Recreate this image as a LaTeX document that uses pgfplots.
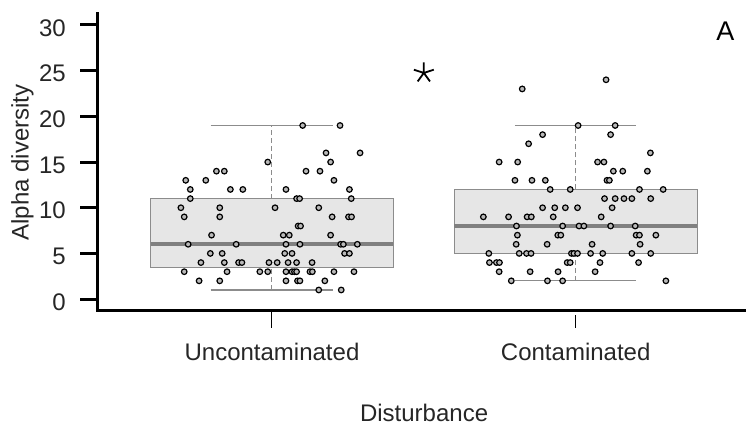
\documentclass[border=0pt]{standalone}
\usepackage{pgfplots}
\pgfplotsset{compat=1.18}
\usepackage{fontspec}
\setmainfont{Liberation Sans}
\definecolor{boxfill}{HTML}{E6E6E6}
\definecolor{boxline}{HTML}{8C8C8C}
\definecolor{medline}{HTML}{808080}
\definecolor{txt}{HTML}{262626}
\begin{document}
\begin{tikzpicture}
\useasboundingbox (0,0) rectangle (746bp,427bp);
\begin{axis}[
  at={(97bp,116bp)}, anchor=south west,
  scale only axis, width=649bp, height=297bp,
  xmin=0.4238, xmax=2.5608, ymin=-1.3, ymax=31.2,
  axis x line*=bottom, axis y line*=left,
  axis line style={line width=3bp, line cap=rect, black},
  xtick={1,2}, xticklabels={Uncontaminated,Contaminated},
  ytick={0,5,10,15,20,25,30},
  tick align=outside,
  major tick length=17bp,
  ytick style={draw=none},
  xtick style={line width=1bp, black, shorten >=4bp},
  tick label style={font=\fontsize{24bp}{28bp}\selectfont, inner sep=0pt, text=txt},
  /pgf/number format/assume math mode=true,
  yticklabel style={anchor=east, xshift=-14bp, yshift=-3bp},
  xticklabel style={anchor=base, yshift=-33bp},
  ylabel={Alpha diversity},
  ylabel style={at={(axis description cs:-0.1148,0.5)}, anchor=center, inner sep=0pt, font=\fontsize{24bp}{28bp}\selectfont, text=txt},
  xlabel={Disturbance},
  xlabel style={at={(axis description cs:0.504,-0.3704)}, anchor=base, inner sep=0pt, font=\fontsize{24bp}{28bp}\selectfont, text=txt},
  clip=false,
]
% y tick marks (thick, outside)
\pgfplotsinvokeforeach{0,5,10,15,20,25,30}{
  \addplot[black, line width=3bp] coordinates {(0.4238,#1) (0.3678,#1)};
}
% boxes
\addplot[fill=boxfill, draw=boxline, line width=1.2bp] coordinates {(0.6,3.5) (1.4,3.5) (1.4,11) (0.6,11)} -- cycle;
\addplot[fill=boxfill, draw=boxline, line width=1.2bp] coordinates {(1.6,5) (2.4,5) (2.4,12) (1.6,12)} -- cycle;
% medians
\addplot[medline, line width=4bp] coordinates {(0.6,6) (1.4,6)};
\addplot[medline, line width=4bp] coordinates {(1.6,8) (2.4,8)};
% whiskers
\addplot[boxline, line width=1bp, dash pattern=on 5bp off 3bp] coordinates {(1,11) (1,19)};
\addplot[boxline, line width=1bp, dash pattern=on 5bp off 3bp] coordinates {(1,1) (1,3.5)};
\addplot[boxline, line width=1bp, dash pattern=on 5bp off 3bp] coordinates {(2,12) (2,19)};
\addplot[boxline, line width=1bp, dash pattern=on 5bp off 3bp] coordinates {(2,2) (2,5)};
\addplot[boxline, line width=1.2bp] coordinates {(0.798,19) (1.202,19)};
\addplot[boxline, line width=1.2bp] coordinates {(0.798,1) (1.202,1)};
\addplot[boxline, line width=1.2bp] coordinates {(1.8,19) (2.2,19)};
\addplot[boxline, line width=1.2bp] coordinates {(1.8,2) (2.2,2)};
% points: Uncontaminated
\addplot[only marks, mark=*, mark size=2.8pt, mark options={draw=black, fill=gray!55, line width=1.2bp}] coordinates {
(1.101,19) (1.224,19)
(1.178,16) (1.290,16)
(0.986,15) (1.193,15)
(0.817,14) (0.843,14) (1.112,14) (1.158,14)
(0.716,13) (0.782,13) (1.204,13)
(0.731,12) (0.863,12) (0.904,12) (1.046,12) (1.255,12)
(0.731,11) (1.081,11) (1.091,11) (1.261,11)
(0.700,10) (0.828,10) (1.010,10) (1.154,10)
(0.711,9) (0.828,9) (1.198,9) (1.252,9) (1.262,9)
(1.086,8) (1.094,8)
(0.801,7) (1.037,7) (1.057,7) (1.193,7)
(0.724,6) (0.882,6) (1.046,6) (1.092,6) (1.226,6) (1.235,6) (1.281,6)
(0.797,5) (0.836,5) (1.042,5) (1.066,5) (1.239,5) (1.255,5)
(0.766,4) (0.843,4) (0.890,4) (0.901,4) (0.990,4) (1.017,4) (1.053,4) (1.081,4) (1.132,4)
(0.711,3) (0.852,3) (0.960,3) (0.986,3) (1.046,3) (1.066,3) (1.074,3) (1.081,3) (1.125,3) (1.133,3) (1.204,3) (1.270,3)
(0.760,2) (0.828,2) (1.046,2) (1.084,2) (1.092,2) (1.174,2)
(1.154,1) (1.228,1)
};
% points: Contaminated
\addplot[only marks, mark=*, mark size=2.8pt, mark options={draw=black, fill=gray!55, line width=1.2bp}] coordinates {
(2.100,24) (1.824,23)
(2.008,19) (2.130,19)
(1.891,18) (2.115,18)
(1.845,17)
(2.246,16)
(1.748,15) (1.809,15) (2.072,15) (2.093,15)
(2.124,14) (2.155,14) (2.236,14)
(1.800,13) (1.856,13) (1.900,13) (2.103,13) (2.111,13)
(1.916,12) (1.982,12) (2.210,12) (2.288,12)
(2.095,11) (2.130,11) (2.159,11) (2.185,11) (2.247,11)
(1.891,10) (1.931,10) (1.966,10) (2.006,10) (2.120,10)
(1.696,9) (1.779,9) (1.840,9) (1.854,9) (1.926,9) (2.084,9)
(1.805,8) (1.957,8) (2.011,8) (2.027,8) (2.115,8) (2.196,8)
(1.808,7) (1.941,7) (1.951,7) (2.199,7) (2.210,7) (2.264,7)
(1.804,6) (1.906,6) (2.054,6) (2.212,6)
(1.714,5) (1.814,5) (1.838,5) (1.853,5) (1.986,5) (1.994,5) (2.006,5) (2.049,5) (2.089,5) (2.185,5) (2.247,5)
(1.716,4) (1.739,4) (1.749,4) (1.972,4) (1.982,4) (2.080,4) (2.207,4)
(1.748,3) (1.850,3) (1.942,3) (2.064,3)
(1.788,2) (1.907,2) (1.957,2) (2.297,2)
};
% significance star
\addplot[only marks, mark=star, mark size=10.5pt, mark options={line width=1.8bp, black}] coordinates {(1.5,24.75)};
\node[font=\fontsize{27bp}{30bp}\selectfont, inner sep=0pt, anchor=center, text=black] at (axis cs:2.493,29.35) {A};
\end{axis}
\end{tikzpicture}
\end{document}
